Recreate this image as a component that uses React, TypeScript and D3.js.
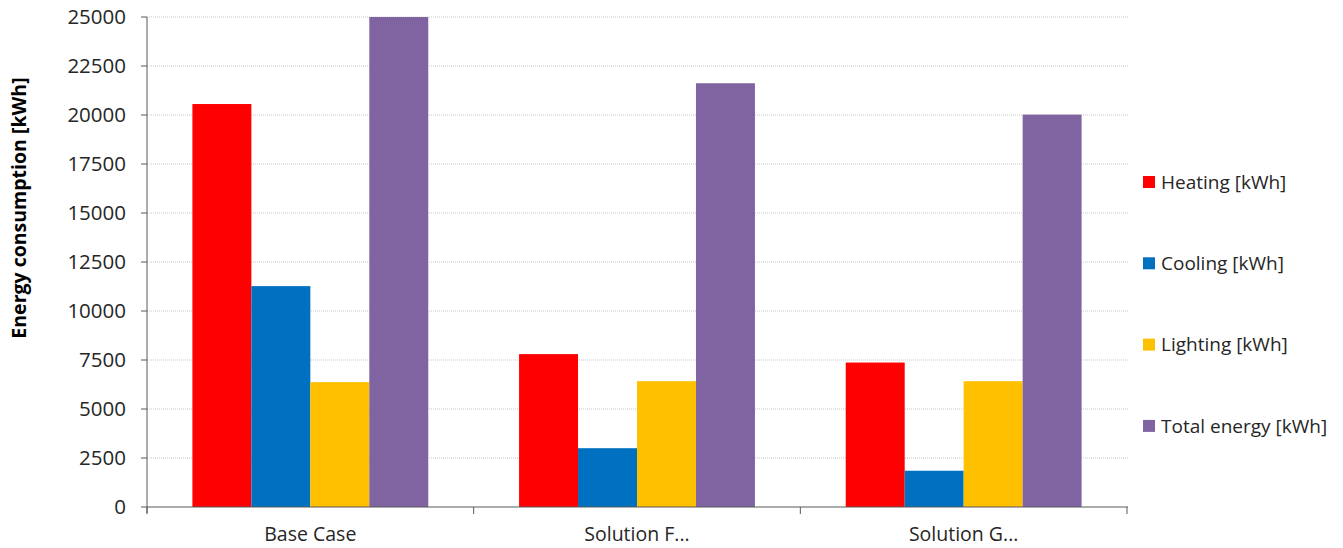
import React from "react";
import * as d3 from "d3";

const categories = ["Base Case", "Solution F...", "Solution G..."];
const seriesNames = ["Heating [kWh]", "Cooling [kWh]", "Lighting [kWh]", "Total energy [kWh]"];
const seriesColors = ["#FF0000", "#0070C0", "#FFC000", "#8064A2"];
const heating = [20560, 7800, 7370];
const cooling = [11270, 3000, 1850];
const lighting = [6370, 6420, 6420];
const totalEnergy = [25000, 21620, 20020];
const yTicks = [0, 2500, 5000, 7500, 10000, 12500, 15000, 17500, 20000, 22500, 25000];
const yTitle = "Energy consumption [kWh]";

const seriesValues = [heating, cooling, lighting, totalEnergy];

const W = 1343;
const H = 548;
const left = 147;
const right = 1127;
const top = 17;
const bottom = 507;
const FONT = "'Open Sans', sans-serif";

export default function App() {
  const x0 = d3.scaleBand<string>().domain(categories).range([left, right]).padding(0);
  const bw = x0.bandwidth();
  const x1 = d3.scaleBand<number>().domain(d3.range(seriesNames.length)).range([0, bw]).paddingInner(0).paddingOuter(0.77);
  const y = d3.scaleLinear().domain([0, 25000]).range([bottom, top]);

  return (
    <svg width={W} height={H} style={{ position: "absolute", left: 0, top: 0, background: "#fff" }} fontFamily={FONT}>
      {yTicks.map((t) => (
        <g key={t}>
          {t > 0 && (
            <line x1={left} x2={right + 1} y1={y(t)} y2={y(t)} stroke="#C8C8C8" strokeWidth={1} strokeDasharray="1,1" />
          )}
          <line x1={left - 6} x2={left} y1={y(t)} y2={y(t)} stroke="#595959" strokeWidth={1} />
          <text x={126} y={y(t)} dy="0.36em" textAnchor="end" fontSize={20.5} fill="#262626">
            {t}
          </text>
        </g>
      ))}
      {categories.map((c, ci) => (
        <g key={c}>
          {seriesValues.map((vals, si) => (
            <rect
              key={si}
              x={(x0(c) as number) + (x1(si) as number)}
              y={y(vals[ci])}
              width={x1.bandwidth()}
              height={bottom - y(vals[ci])}
              fill={seriesColors[si]}
            />
          ))}
          <text x={(x0(c) as number) + bw / 2} y={541} textAnchor="middle" fontSize={19.5} fill="#262626">
            {c}
          </text>
        </g>
      ))}
      <line x1={left} x2={left} y1={top} y2={bottom + 6} stroke="#595959" strokeWidth={1} />
      <line x1={left} x2={right + 1} y1={bottom} y2={bottom} stroke="#595959" strokeWidth={1} />
      {[...categories.map((c) => x0(c) as number), right].map((xv, i) => (
        <line key={i} x1={xv} x2={xv} y1={bottom} y2={bottom + 7} stroke="#595959" strokeWidth={1} />
      ))}
      <text
        transform={`translate(26, 208) rotate(-90)`}
        textAnchor="middle"
        fontSize={19.5}
        fontWeight="bold"
        fill="#000"
      >
        {yTitle}
      </text>
      {seriesNames.map((s, i) => {
        const ly = 182 + i * 81.3;
        return (
          <g key={s}>
            <rect x={1143} y={ly - 6} width={12} height={12} fill={seriesColors[i]} />
            <text x={1161} y={ly} dy="0.36em" fontSize={19} fill="#262626">
              {s}
            </text>
          </g>
        );
      })}
    </svg>
  );
}
